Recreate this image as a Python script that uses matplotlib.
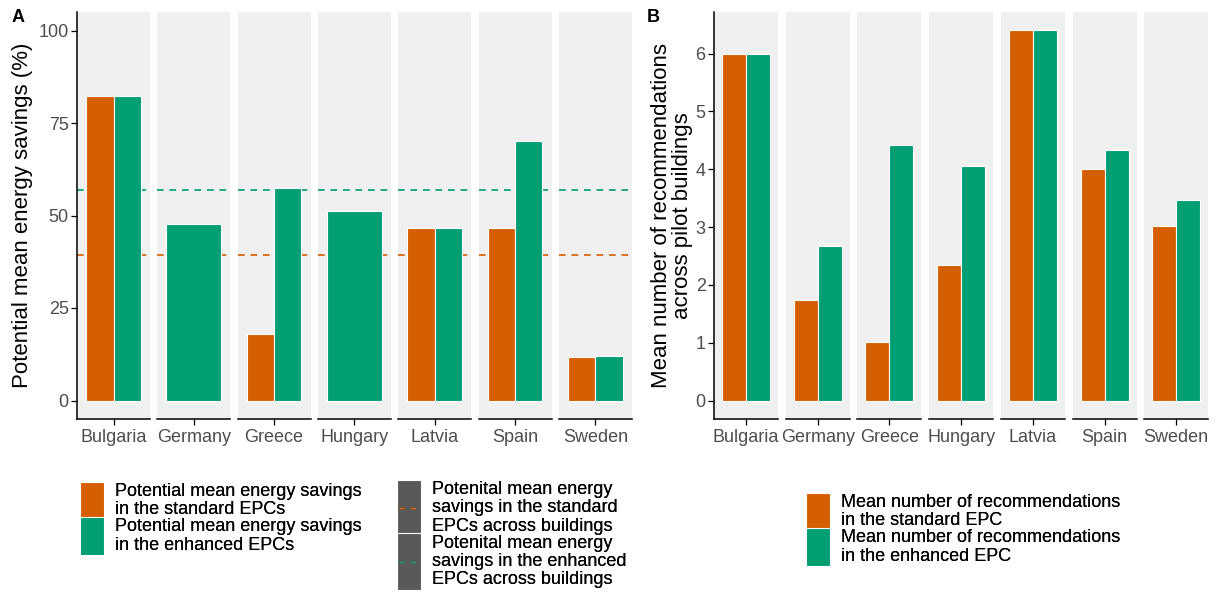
import numpy as np
import matplotlib
matplotlib.use("Agg")
import matplotlib.pyplot as plt
from matplotlib.patches import Patch, Rectangle
from matplotlib.lines import Line2D
from matplotlib.legend_handler import HandlerBase

plt.rcParams["font.family"] = ["Liberation Sans", "DejaVu Sans"]

# --- DATA ---
countries = ["Bulgaria", "Germany", "Greece", "Hungary", "Latvia", "Spain", "Sweden"]
savings_standard = [82.2, np.nan, 17.9, np.nan, 46.5, 46.7, 11.7]
savings_enhanced = [82.2, 47.8, 57.4, 51.3, 46.5, 70.1, 12.0]
mean_savings_standard = 39.2
mean_savings_enhanced = 56.8
recs_standard = [6.0, 1.73, 1.01, 2.35, 6.40, 4.01, 3.01]
recs_enhanced = [6.0, 2.68, 4.42, 4.06, 6.40, 4.33, 3.46]

ORANGE = "#D55E00"
GREEN = "#009E73"
PANEL_BG = "#F0F0F0"
TICK_GREY = "#4D4D4D"
KEY_GREY = "#595959"
LEG_FS = 13
LEG_LS = 1.1

W, H = 1217, 594
fig = plt.figure(figsize=(W / 100, H / 100), dpi=100)


def px_axes(x0, x1, y0, y1):
    # pixel box -> figure axes
    return fig.add_axes([x0 / W, 1 - y1 / H, (x1 - x0) / W, (y1 - y0) / H])


def facet_panel(left, step, width, std, enh, ylim, yticks, hlines=()):
    axes = []
    for i, name in enumerate(countries):
        x0 = left + i * step
        ax = px_axes(x0, x0 + width, 12, 419)
        ax.set_facecolor(PANEL_BG)
        ax.set_xlim(0.4, 1.6)
        ax.set_ylim(*ylim)
        for val, col in hlines:
            ax.axhline(val, color=col, ls=(0, (4, 3.5)), lw=1.2, zorder=1)
        s, e = std[i], enh[i]
        if np.isnan(s):
            ax.bar(1, e, width=0.9, color=GREEN, edgecolor="white", lw=0.8, zorder=2)
        elif np.isnan(e):
            ax.bar(1, s, width=0.9, color=ORANGE, edgecolor="white", lw=0.8, zorder=2)
        else:
            ax.bar(1 - 0.225, s, width=0.45, color=ORANGE, edgecolor="white", lw=0.8, zorder=2)
            ax.bar(1 + 0.225, e, width=0.45, color=GREEN, edgecolor="white", lw=0.8, zorder=2)
        for sp in ["top", "right"]:
            ax.spines[sp].set_visible(False)
        ax.spines["bottom"].set_linewidth(1.1)
        ax.set_xticks([1])
        ax.set_xticklabels([name])
        ax.tick_params(axis="x", length=4, width=0.9, labelsize=13, labelcolor=TICK_GREY, pad=3)
        if i == 0:
            ax.spines["left"].set_linewidth(1.1)
            ax.set_yticks(yticks)
            ax.tick_params(axis="y", length=4, width=0.9, labelsize=13, labelcolor=TICK_GREY, pad=2)
        else:
            ax.spines["left"].set_visible(False)
            ax.set_yticks([])
        axes.append(ax)
    return axes


axA = facet_panel(77, 80.3, 73, savings_standard, savings_enhanced, (-5, 105),
                  [0, 25, 50, 75, 100],
                  hlines=[(mean_savings_standard, ORANGE), (mean_savings_enhanced, GREEN)])
axA[0].set_ylabel("Potential mean energy savings (%)", fontsize=16)
axA[0].yaxis.set_label_coords(-0.6, 0.5)

axB = facet_panel(714, 71.7, 64, recs_standard, recs_enhanced, (-0.32, 6.72),
                  [0, 1, 2, 3, 4, 5, 6])
axB[0].set_ylabel("Mean number of recommendations\nacross pilot buildings",
                  fontsize=16, linespacing=1.0)
axB[0].yaxis.set_label_coords(-0.33, 0.5)

fig.text(12 / W, 1 - 18 / H, "A", fontsize=13, fontweight="bold", va="center")
fig.text(647 / W, 1 - 18 / H, "B", fontsize=13, fontweight="bold", va="center")


# --- LEGENDS ---
class KeyHandler(HandlerBase):
    # ggplot-like key: box stretched to the height of its label
    def __init__(self, n_lines, color, dash=None):
        super().__init__()
        self.n_lines = n_lines
        self.color = color
        self.dash = dash

    def create_artists(self, legend, orig_handle, xdescent, ydescent,
                       width, height, fontsize, trans):
        h = ((self.n_lines - 1) * 0.91 * LEG_LS + 1.12) * fontsize
        yc = -ydescent + height / 2
        rect = Rectangle((-xdescent, yc - h / 2), width, h, facecolor=self.color,
                         edgecolor="white", lw=0.8, transform=trans)
        out = [rect]
        if self.dash:
            out.append(Line2D([-xdescent + 0.1 * width, -xdescent + 0.9 * width], [yc, yc],
                              color=self.dash, ls=(0, (4, 4)), lw=1.0, transform=trans))
        return out


def make_legend(labels, colors, dashes, anchor):
    handles = [Patch() for _ in labels]
    hmap = {h: KeyHandler(lab.count("\n") + 1, c, d)
            for h, lab, c, d in zip(handles, labels, colors, dashes)}
    leg = fig.legend(handles, labels, handler_map=hmap, bbox_to_anchor=anchor,
                     loc="upper left", frameon=False, fontsize=LEG_FS,
                     labelspacing=0.0, handletextpad=0.62, handlelength=1.33,
                     handleheight=0.7, borderpad=0, borderaxespad=0)
    for t in leg.get_texts():
        t.set_linespacing(LEG_LS)
    fig.add_artist(leg)
    return leg


fill_labels = ["Potential mean energy savings\nin the standard EPCs",
               "Potential mean energy savings\nin the enhanced EPCs"]
make_legend(fill_labels, [ORANGE, GREEN], [None, None], (80 / W, 1 - 483 / H))

line_labels = ["Potenital mean energy\nsavings in the standard\nEPCs across buildings",
               "Potenital mean energy\nsavings in the enhanced\nEPCs across buildings"]
make_legend(line_labels, [KEY_GREY, KEY_GREY], [ORANGE, GREEN], (397 / W, 1 - 481 / H))

recs_labels = ["Mean number of recommendations\nin the standard EPC",
               "Mean number of recommendations\nin the enhanced EPC"]
make_legend(recs_labels, [ORANGE, GREEN], [None, None], (806 / W, 1 - 494 / H))

fig.savefig("out.png", dpi=100)
